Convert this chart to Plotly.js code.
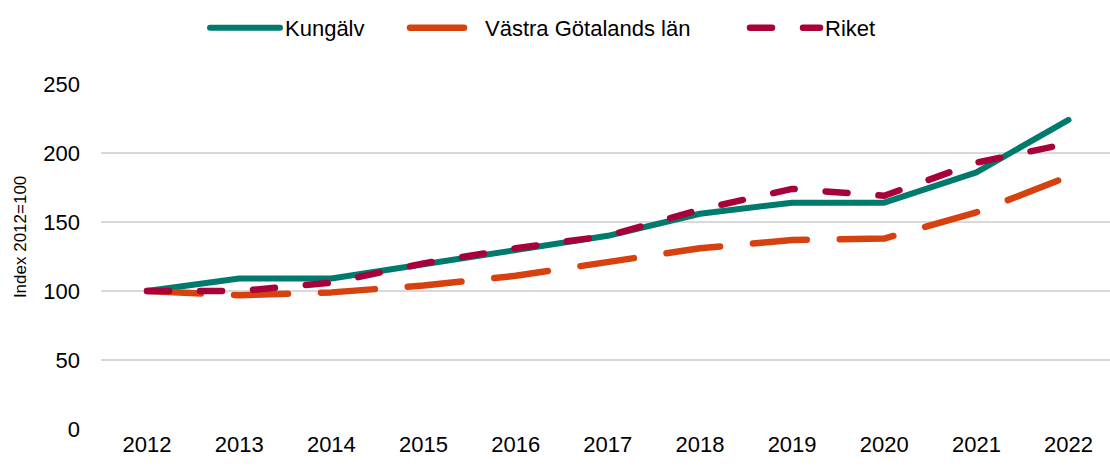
<!DOCTYPE html>
<html><head><meta charset="utf-8">
<script src="https://cdn.plot.ly/plotly-3.0.1.min.js"></script>
<style>
body{margin:0;background:#fff;}
#chart{width:1110px;height:468px;}
.js-line{stroke-linecap:round;stroke-linejoin:round;}
.legendlines path{stroke-linecap:round;}
</style></head><body>
<div id="chart"></div>
<script>
const years = [2012,2013,2014,2015,2016,2017,2018,2019,2020,2021,2022];
const kungalv = [100,109,109,119,130,140,156,164,164,186,224];
const vastraGotaland = [100,97,99,104,111,121,131,137,138,157,183];
const riket = [100,100,106,120,131,140,159,174,169,193,207];
const seriesNames = ["Kungälv","Västra Götalands län","Riket"];
const tickLabels = years.map(String);
const yTitle = "Index 2012=100";

const font = "Liberation Sans, Arial, sans-serif";
const traces = [
  {x: years, y: kungalv, name: seriesNames[0], mode: "lines", legend: "legend",
   line: {color: "#007A6C", width: 6}},
  {x: years, y: vastraGotaland, name: seriesNames[1], mode: "lines", legend: "legend2",
   line: {color: "#D6410F", width: 6.5, dash: "54px,33px"}},
  {x: years, y: riket, name: seriesNames[2], mode: "lines", legend: "legend3",
   line: {color: "#A8003B", width: 6.5, dash: "22px,31px"}}
];
function leg(px) {
  return {orientation: "h", x: (px - 101) / 1009, xanchor: "left", yref: "container",
          y: 0.985, yanchor: "top", font: {size: 22, family: font}, bgcolor: "rgba(0,0,0,0)",
          itemwidth: 70};
}
const layout = {
  width: 1110, height: 468,
  margin: {l: 101, r: 0, t: 84, b: 39},
  paper_bgcolor: "#fff", plot_bgcolor: "#fff",
  font: {family: font, color: "#000", size: 22},
  showlegend: true,
  legend: leg(205),
  legend2: leg(405),
  legend3: leg(745),
  xaxis: {range: [2011.5, 2022.45], tickmode: "array", tickvals: years, ticktext: tickLabels,
          showgrid: false, zeroline: false, showline: false, ticks: "",
          tickfont: {size: 22}, fixedrange: true},
  yaxis: {range: [0, 250], dtick: 50, tick0: 0, showgrid: true, gridcolor: "#D9D9D9", gridwidth: 1.5,
          zeroline: false, showline: false, ticks: "", tickfont: {size: 22}, ticklabelstandoff: 20},
  annotations: [{text: yTitle, xref: "paper", yref: "paper", x: -0.079, y: 0.557,
                 xanchor: "center", yanchor: "middle", textangle: -90, showarrow: false,
                 font: {size: 17, family: font}}]
};
Plotly.newPlot("chart", traces, layout, {displayModeBar: false, staticPlot: true});
</script></body></html>
